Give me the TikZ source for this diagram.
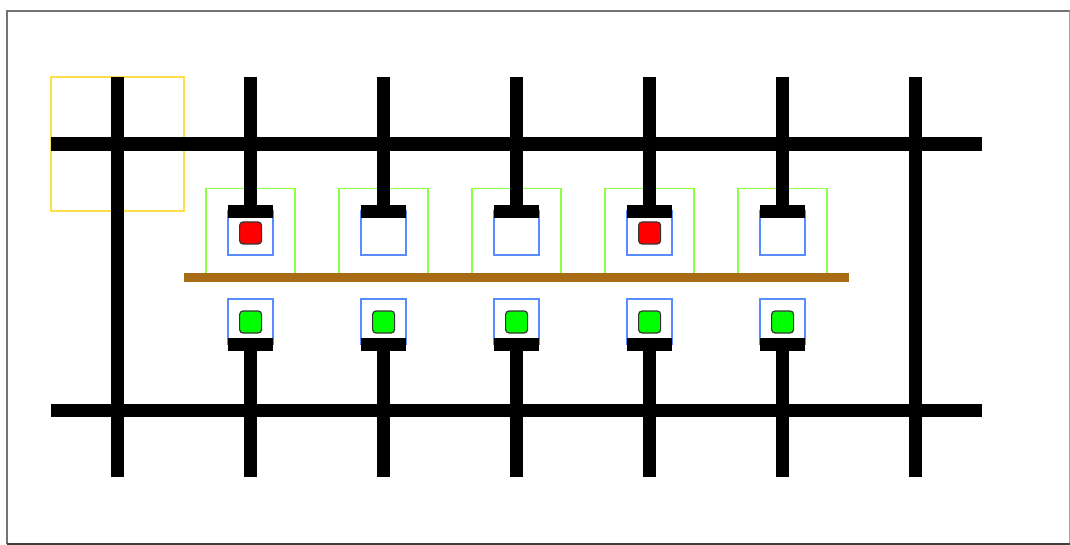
\documentclass[tikz,border=0pt]{standalone}
\usepackage[dvipsnames]{xcolor}
\usetikzlibrary{arrows}
\definecolor{railbrown}{rgb}{0.65,0.42,0.08}
\definecolor{boxgreen}{rgb}{0.55,1,0.25}
\definecolor{boxblue}{rgb}{0.35,0.55,1}
\definecolor{boxyellow}{rgb}{1,0.88,0.3}
\tikzset{
  wire/.style={color=black,line width=13.4pt},
  outline/.style={line width=1.8pt},
  dotcell/.style={draw=black!80,line width=1.2pt,rounded corners=3.5pt}
}
\begin{document}
\begin{tikzpicture}[line cap=butt,line join=miter,x=1pt,y=-1pt]
\useasboundingbox (0,0) rectangle (1070,545);
\draw [color=black!55,line width=1.5pt] (7,544) -- (7,11) -- (1070,11);
\draw [color=black!35,line width=1pt] (1069,11) -- (1069,544);
\draw [color=black!75,line width=1.5pt] (7,544) -- (1070,544);
\draw [color=boxyellow,outline] (50.7,77.3) rectangle (184,211);
% green and blue boxes
\foreach \x in {250.5,383.5,516.5,649.5,782.5} {
\draw [color=boxgreen,outline] (\x-44.5,188.5) rectangle (\x+44.5,277);
\draw [color=boxblue,outline] (\x-22.2,211) rectangle (\x+22.2,255.2);
\draw [color=boxblue,outline] (\x-22.2,299.2) rectangle (\x+22.2,344);
}
\fill [color=railbrown] (184,273.2) rectangle (849,281.8);
% rails and columns
\draw [wire] (51,144) -- (982,144);
\draw [wire] (51,410.5) -- (982,410.5);
\foreach \x in {117.6,915.6}
\draw [wire] (\x,77) -- (\x,477);
\foreach \x in {250.6,383.6,516.6,649.6,782.6} {
\draw [wire] (\x,77) -- (\x,211);
\fill (\x-22.3,204.6) rectangle (\x+22.3,217.6);
\draw [wire] (\x,344) -- (\x,477);
\fill (\x-22.3,338) rectangle (\x+22.3,350.6);
\draw [dotcell,fill=green] (\x-11,311) rectangle (\x+11,333);
}
\foreach \x in {250.6,649.6}
\draw [dotcell,fill=red] (\x-11,222) rectangle (\x+11,244);
\end{tikzpicture}
\end{document}
